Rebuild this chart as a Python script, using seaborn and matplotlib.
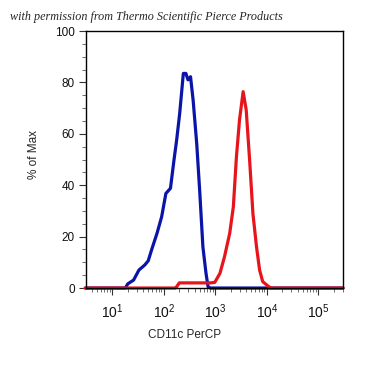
import matplotlib
matplotlib.use("Agg")
import matplotlib.pyplot as plt
import matplotlib.ticker as mticker
import seaborn as sns
import pandas as pd

# histogram overlay values (% of max vs CD11c PerCP intensity)
blue_x = [3, 18, 20, 26, 33, 43, 50, 58, 74, 91, 110, 135, 158, 178, 204, 240,
          269, 295, 331, 372, 437, 501, 575, 661, 724, 800, 300000]
blue_y = [0, 0, 1.6, 3.1, 7, 9, 10.6, 14.8, 21.3, 27.7, 36.8, 38.8, 49.8, 57.6,
          68, 83.5, 83.5, 81, 82.2, 73, 56, 37, 16, 5.7, 0.5, 0, 0]
red_x = [3, 170, 178, 200, 800, 977, 1230, 1510, 1905, 2240, 2570, 2950, 3470,
         3980, 4680, 5370, 6310, 7240, 8320, 10500, 12000, 300000]
red_y = [0, 0, 0.5, 2, 2, 2.2, 5.7, 12.2, 21.3, 31.6, 51, 65.4, 76.4, 69.3,
         48.5, 29, 16, 7, 2.5, 0.8, 0, 0]

x_ticks = [10, 100, 1000, 10000, 100000]
x_labels = ["$10^1$", "$10^2$", "$10^3$", "$10^4$", "$10^5$"]
y_ticks = [0, 20, 40, 60, 80, 100]

sns.set_style("white")
plt.rcParams['font.family'] = ['Liberation Sans', 'DejaVu Sans']
plt.rcParams['mathtext.fontset'] = 'custom'
plt.rcParams['mathtext.rm'] = 'Liberation Sans'
plt.rcParams['mathtext.it'] = 'Liberation Sans'

fig = plt.figure(figsize=(3.87, 3.82), dpi=100)
ax = fig.add_axes([0.2222, 0.246, 0.664, 0.6728])

blue = pd.DataFrame({"x": blue_x, "y": blue_y})
red = pd.DataFrame({"x": red_x, "y": red_y})
sns.lineplot(data=blue, x="x", y="y", color="#0a14a8", lw=2.3, ax=ax,
             estimator=None, sort=False, clip_on=False)
sns.lineplot(data=red, x="x", y="y", color="#e8141c", lw=2.3, ax=ax,
             estimator=None, sort=False, clip_on=False)

ax.set_xscale("log")
ax.set_xlim(3.1, 300000)
ax.set_ylim(0, 100)
ax.set_xticks(x_ticks)
ax.set_xticklabels(x_labels, fontsize=10, color="#111111")
ax.xaxis.set_minor_locator(mticker.LogLocator(base=10, subs=range(2, 10), numticks=20))
ax.xaxis.set_minor_formatter(mticker.NullFormatter())
ax.set_yticks(y_ticks)
ax.set_yticklabels([str(v) for v in y_ticks], fontsize=8.5, color="#111111")
ax.yaxis.set_minor_locator(mticker.MultipleLocator(5))

ax.tick_params(which="major", direction="out", length=5, width=0.8, color="#333333",
               bottom=True, left=True, pad=3)
ax.tick_params(axis="x", which="major", pad=5)
ax.tick_params(which="minor", direction="out", length=3, width=0.6, color="#555555",
               bottom=True, left=True)
for s in ax.spines.values():
    s.set_color("black")
    s.set_linewidth(1)

ax.set_xlabel("CD11c PerCP", fontsize=8.5)
ax.set_ylabel("% of Max", fontsize=8.5)
ax.xaxis.set_label_coords(0.385, -0.16)
ax.yaxis.set_label_coords(-0.18, 0.52)

fig.text(0.026, 0.948, "with permission from Thermo Scientific Pierce Products",
         fontsize=8.7, style="italic", family="Liberation Serif")

fig.savefig("out.png", dpi=100)
